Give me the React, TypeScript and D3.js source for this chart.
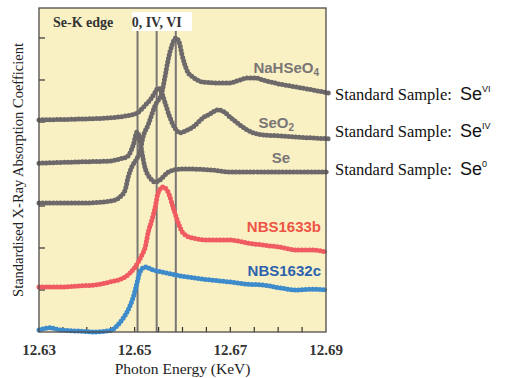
import React, { useEffect, useRef } from 'react';
import * as d3 from 'd3';

// energies in keV, absorption in arbitrary (offset) units
const naHSeO4: [number, number][] = [
  [12.63, 3.07], [12.6386, 3.07], [12.6438, 3.1], [12.6459, 3.14], [12.6469, 3.21],
  [12.648, 3.38], [12.6486, 3.67], [12.6494, 3.93], [12.6503, 4.1], [12.6511, 4.29],
  [12.6517, 4.62], [12.6528, 4.93], [12.6543, 5.4], [12.6557, 5.71], [12.6563, 6.05],
  [12.657, 6.48], [12.6578, 6.83], [12.6586, 7.0], [12.6593, 6.9], [12.6599, 6.6],
  [12.6605, 6.36], [12.6611, 6.19], [12.6622, 6.07], [12.6643, 5.95], [12.6672, 5.93],
  [12.6699, 5.93], [12.672, 6.0], [12.6735, 6.05], [12.6752, 6.05], [12.6768, 6.0],
  [12.6804, 5.9], [12.6839, 5.83], [12.6873, 5.76], [12.6905, 5.69]
];

const seO2: [number, number][] = [
  [12.63, 5.05], [12.6386, 5.07], [12.6448, 5.1], [12.648, 5.14], [12.6505, 5.21],
  [12.6522, 5.4], [12.6532, 5.52], [12.6543, 5.71], [12.6549, 5.81], [12.6555, 5.74],
  [12.6563, 5.48], [12.6574, 5.1], [12.6584, 4.86], [12.6595, 4.74], [12.6607, 4.79],
  [12.6622, 4.88], [12.6643, 5.1], [12.6657, 5.19], [12.6674, 5.29], [12.6687, 5.24],
  [12.6699, 5.12], [12.672, 4.93], [12.6735, 4.81], [12.6768, 4.69], [12.6804, 4.67],
  [12.6839, 4.64], [12.6873, 4.62], [12.6905, 4.6]
];

const se: [number, number][] = [
  [12.63, 4.02], [12.6386, 4.05], [12.6448, 4.07], [12.6469, 4.12], [12.6484, 4.17],
  [12.649, 4.26], [12.6497, 4.45], [12.6505, 4.76], [12.6511, 4.57], [12.6515, 4.29],
  [12.6522, 3.9], [12.6532, 3.67], [12.6543, 3.57], [12.6553, 3.62], [12.6568, 3.79],
  [12.6584, 3.86], [12.6595, 3.88], [12.6616, 3.88], [12.6657, 3.86], [12.6699, 3.81],
  [12.6768, 3.81], [12.6839, 3.81], [12.6905, 3.81]
];

const nbs1633b: [number, number][] = [
  [12.63, 1.07], [12.6344, 1.07], [12.6386, 1.1], [12.6417, 1.12], [12.6448, 1.19],
  [12.648, 1.31], [12.6501, 1.55], [12.6515, 1.83], [12.6522, 2.02], [12.6528, 2.36],
  [12.6536, 2.67], [12.6543, 2.98], [12.6549, 3.31], [12.6559, 3.45], [12.657, 3.33],
  [12.658, 2.98], [12.6591, 2.6], [12.6601, 2.36], [12.662, 2.24], [12.6657, 2.19],
  [12.6699, 2.19], [12.6735, 2.12], [12.6768, 2.07], [12.6804, 2.02], [12.6839, 1.95],
  [12.6873, 1.95], [12.6902, 1.9]
];

const nbs1632c: [number, number][] = [
  [12.63, 0.05], [12.6323, 0.1], [12.6344, 0.05], [12.6386, 0.02], [12.6417, 0.0],
  [12.6438, 0.02], [12.6453, 0.05], [12.6465, 0.17], [12.6476, 0.33], [12.6486, 0.52],
  [12.6497, 0.83], [12.6505, 1.17], [12.6511, 1.43], [12.6522, 1.55], [12.6538, 1.48],
  [12.6557, 1.43], [12.6584, 1.36], [12.6611, 1.31], [12.6657, 1.24], [12.6699, 1.19],
  [12.6735, 1.14], [12.6768, 1.12], [12.6804, 1.05], [12.6839, 1.0], [12.6873, 1.02],
  [12.6902, 1.0]
];

const edgeLines = [12.6506, 12.6546, 12.6586];
const xTickLabels = [12.63, 12.65, 12.67, 12.69];
const xMinorTicks = d3.range(0, 13).map(i => 12.63 + i * 0.005);
const yTicks = [1, 2, 3, 4, 5, 6, 7];

const standards = [
  { text: 'Standard Sample:', sup: 'VI', y: 100 },
  { text: 'Standard Sample:', sup: 'IV', y: 137 },
  { text: 'Standard Sample:', sup: '0', y: 175 }
];

const GRAY = '#6d696a';
const RED = '#ef5b60';
const BLUE = '#3d8bcb';

const App: React.FC = () => {
  const svgRef = useRef<SVGSVGElement>(null);

  useEffect(() => {
    if (!svgRef.current) return;
    const svg = d3.select(svgRef.current);
    svg.selectAll('*').remove();

    const margin = { top: 8, left: 39, right: 189, bottom: 46 };
    const width = 515, height = 378;
    const x = d3.scaleLinear().domain([12.63, 12.69]).range([margin.left, width - margin.right]);
    const y = d3.scaleLinear().domain([0, 7.714]).range([height - margin.bottom, margin.top]);
    const [x0, x1] = x.range();
    const [yb, yt] = y.range();
    const serif = '"Liberation Serif", "DejaVu Serif", serif';
    const sans = '"Liberation Sans", Arial, sans-serif';

    // plot background
    svg.append('rect')
      .attr('x', x0).attr('y', yt).attr('width', x1 - x0).attr('height', yb - yt)
      .attr('fill', '#f9f0c4');

    // edge reference lines
    svg.selectAll('.edge')
      .data(edgeLines)
      .enter()
      .append('line')
      .attr('x1', d => x(d)).attr('x2', d => x(d))
      .attr('y1', 20).attr('y2', yb)
      .attr('stroke', '#7a7676')
      .attr('stroke-width', 2);

    // ticks
    svg.selectAll('.xtick')
      .data(xMinorTicks.slice(1, -1))
      .enter()
      .append('line')
      .attr('x1', d => x(d)).attr('x2', d => x(d))
      .attr('y1', yb).attr('y2', yb - 5)
      .attr('stroke', '#333').attr('stroke-width', 1.2);
    svg.selectAll('.ytick')
      .data(yTicks)
      .enter()
      .append('line')
      .attr('x1', x0).attr('x2', x0 + 6)
      .attr('y1', d => y(d)).attr('y2', d => y(d))
      .attr('stroke', '#333').attr('stroke-width', 1.2);

    const line = d3.line<[number, number]>()
      .x(d => x(d[0]))
      .y(d => y(d[1]))
      .curve(d3.curveMonotoneX);

    const series = [
      { data: nbs1632c, color: BLUE },
      { data: nbs1633b, color: RED },
      { data: se, color: GRAY },
      { data: seO2, color: GRAY },
      { data: naHSeO4, color: GRAY }
    ];

    series.forEach(s => {
      svg.append('path')
        .attr('d', line(s.data))
        .attr('fill', 'none')
        .attr('stroke', s.color)
        .attr('stroke-width', 2.4);
      // beaded look of the sampled points
      svg.append('path')
        .attr('d', line(s.data))
        .attr('fill', 'none')
        .attr('stroke', s.color)
        .attr('stroke-width', 5)
        .attr('stroke-linecap', 'round')
        .attr('stroke-dasharray', '0,3.6');
    });

    // frame
    svg.append('rect')
      .attr('x', x0).attr('y', yt).attr('width', x1 - x0).attr('height', yb - yt)
      .attr('fill', 'none')
      .attr('stroke', '#4d4a4a')
      .attr('stroke-width', 1.3);

    // top labels
    svg.append('text')
      .attr('x', 53).attr('y', 27)
      .attr('font-family', serif)
      .attr('font-weight', 'bold').attr('font-size', 14)
      .attr('fill', '#333')
      .text('Se-K edge');
    svg.append('rect')
      .attr('x', 132).attr('y', 12).attr('width', 60).attr('height', 19)
      .attr('fill', '#fff');
    svg.append('text')
      .attr('x', x(12.6546)).attr('y', 27)
      .attr('text-anchor', 'middle')
      .attr('font-family', serif)
      .attr('font-weight', 'bold').attr('font-size', 14)
      .attr('fill', '#333')
      .text('0, IV, VI');

    // series labels
    const lab = (tx: number, ty: number, color: string, parts: [string, boolean][]) => {
      const t = svg.append('text')
        .attr('x', tx).attr('y', ty)
        .attr('text-anchor', 'end')
        .attr('font-family', sans)
        .attr('font-weight', 'bold').attr('font-size', 15)
        .attr('fill', color);
      parts.forEach(([str, sub]) => {
        t.append('tspan')
          .attr('font-size', sub ? 10 : 15)
          .attr('dy', sub ? 3 : 0)
          .text(str);
      });
    };
    lab(319, 73, '#7a7676', [['NaHSeO', false], ['4', true]]);
    lab(294, 128, '#7a7676', [['SeO', false], ['2', true]]);
    lab(290, 163, '#7a7676', [['Se', false]]);
    lab(321, 232, '#ee5446', [['NBS1633b', false]]);
    lab(321, 276, '#2d63ae', [['NBS1632c', false]]);

    // x tick labels
    svg.selectAll('.xlab')
      .data(xTickLabels)
      .enter()
      .append('text')
      .attr('x', d => x(d)).attr('y', 355)
      .attr('text-anchor', 'middle')
      .attr('font-family', serif)
      .attr('font-weight', 'bold').attr('font-size', 15)
      .attr('fill', '#333')
      .text(d => d.toFixed(2));

    svg.append('text')
      .attr('x', (x0 + x1) / 2).attr('y', 374)
      .attr('text-anchor', 'middle')
      .attr('font-family', serif)
      .attr('font-size', 15.5)
      .attr('fill', '#222')
      .text('Photon Energy (KeV)');

    svg.append('text')
      .attr('transform', `translate(23,${(yt + yb) / 2}) rotate(-90)`)
      .attr('text-anchor', 'middle')
      .attr('font-family', serif)
      .attr('font-size', 14.5)
      .attr('fill', '#222')
      .text('Standardised X-Ray Absorption Coefficient');

    // standard sample annotations
    standards.forEach(s => {
      const t = svg.append('text')
        .attr('x', 335).attr('y', s.y)
        .attr('font-family', serif)
        .attr('font-size', 16.5)
        .attr('fill', '#111');
      t.append('tspan').text(s.text);
      t.append('tspan')
        .attr('x', 460)
        .attr('font-family', sans)
        .attr('font-size', 18)
        .text('Se');
      t.append('tspan')
        .attr('font-family', sans)
        .attr('font-size', 9)
        .attr('dy', -8)
        .text(s.sup);
    });
  }, []);

  return (
    <svg
      ref={svgRef}
      width={515}
      height={378}
      style={{ position: 'absolute', left: 0, top: 0, background: '#fff' }}
    />
  );
};

export default App;
